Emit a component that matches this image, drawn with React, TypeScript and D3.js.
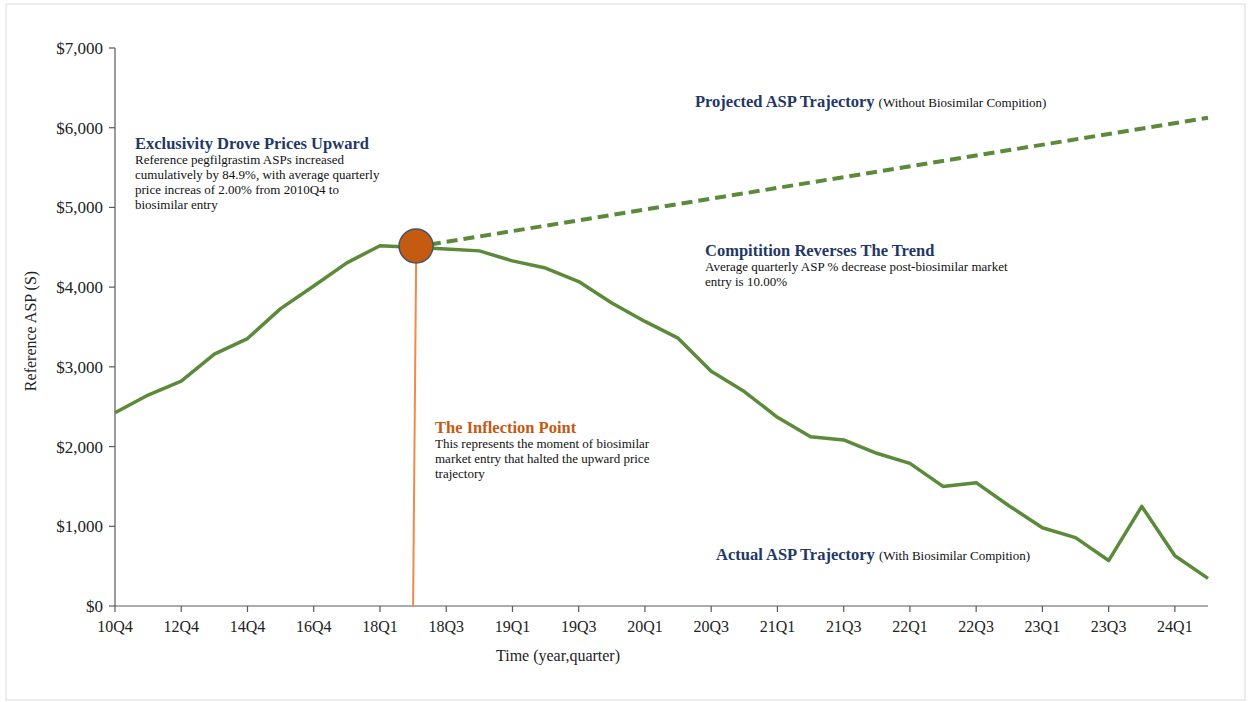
import React from "react";
import * as d3 from "d3";

const categories: string[] = [
  "10Q4", "11Q4", "12Q4", "13Q4", "14Q4", "15Q4", "16Q4", "17Q4",
  "18Q1", "18Q2", "18Q3", "18Q4", "19Q1", "19Q2", "19Q3", "19Q4",
  "20Q1", "20Q2", "20Q3", "20Q4", "21Q1", "21Q2", "21Q3", "21Q4",
  "22Q1", "22Q2", "22Q3", "22Q4", "23Q1", "23Q2", "23Q3", "23Q4",
  "24Q1", "24Q2",
];

const actualASP: number[] = [
  2425, 2646, 2820, 3160, 3355, 3730, 4015, 4305,
  4520, 4500, 4480, 4455, 4330, 4240, 4070, 3800,
  3570, 3360, 2945, 2690, 2367, 2124, 2083, 1916,
  1790, 1500, 1547, 1255, 982, 857, 570, 1250,
  631, 347,
];

const projectedCats: string[] = ["18Q2", "24Q2"];
const projectedASP: number[] = [4500, 6125];

const xTickLabels: string[] = [
  "10Q4", "12Q4", "14Q4", "16Q4", "18Q1", "18Q3", "19Q1", "19Q3", "20Q1",
  "20Q3", "21Q1", "21Q3", "22Q1", "22Q3", "23Q1", "23Q3", "24Q1",
];
const yTicks: number[] = [0, 1000, 2000, 3000, 4000, 5000, 6000, 7000];

const entryCat = "18Q2";
const entryValue = 4517;

const W = 1251;
const H = 702;
const left = 115;
const right = 1208;
const top = 48;
const bottom = 606;

const serif = "'Liberation Serif', 'Times New Roman', serif";
const navy = "#1F3864";
const green = "#5B8A3A";
const axisColor = "#595959";
const titleSize = 16.5;
const bodySize = 13;
const subSize = 13;

export default function App() {
  const x = d3.scalePoint<string>().domain(categories).range([left, right]);
  const y = d3.scaleLinear().domain([0, 7000]).range([bottom, top]);

  const line = d3
    .line<number>()
    .x((_, i) => x(categories[i]) as number)
    .y((d) => y(d));

  const projLine = d3
    .line<number>()
    .x((_, i) => x(projectedCats[i]) as number)
    .y((d) => y(d));

  const cx = x(entryCat) as number;
  const cy = y(entryValue);
  const r = 17;

  return (
    <svg
      width={W}
      height={H}
      style={{ position: "absolute", left: 0, top: 0, background: "#fff" }}
      fontFamily={serif}
    >
      <rect x={6} y={4} width={1239} height={696} fill="#fff" stroke="#D9D9D9" strokeWidth={1} />

      {/* Y axis */}
      <line x1={left} x2={left} y1={top} y2={bottom} stroke={axisColor} strokeWidth={1.2} />
      {yTicks.map((t) => (
        <g key={t}>
          <line x1={left - 6} x2={left} y1={y(t)} y2={y(t)} stroke={axisColor} strokeWidth={1.2} />
          <text x={left - 12} y={y(t)} dy="0.35em" textAnchor="end" fontSize={17} fill="#222">
            {d3.format("$,")(t)}
          </text>
        </g>
      ))}

      {/* X axis */}
      <line x1={left} x2={right} y1={bottom} y2={bottom} stroke={axisColor} strokeWidth={1.2} />
      {xTickLabels.map((c) => (
        <g key={c}>
          <line x1={x(c)} x2={x(c)} y1={bottom} y2={bottom + 6} stroke={axisColor} strokeWidth={1.2} />
          <text x={x(c)} y={bottom + 26} textAnchor="middle" fontSize={16} fill="#222">
            {c}
          </text>
        </g>
      ))}

      <text x={558} y={661} textAnchor="middle" fontSize={16} fill="#222">
        Time (year,quarter)
      </text>
      <text
        transform={`translate(36, ${(top + bottom) / 2 + 4}) rotate(-90)`}
        textAnchor="middle"
        fontSize={16}
        fill="#222"
      >
        Reference ASP (S)
      </text>

      {/* Lines */}
      <path d={line(actualASP) || ""} fill="none" stroke={green} strokeWidth={3.5} strokeLinejoin="round" />
      <path
        d={projLine(projectedASP) || ""}
        fill="none"
        stroke={green}
        strokeWidth={4}
        strokeDasharray="11 6"
      />

      {/* Inflection marker */}
      <line x1={cx + 3} x2={cx} y1={cy + r} y2={bottom} stroke="#F08A4B" strokeWidth={2} />
      <circle cx={cx + 3} cy={cy} r={r} fill="#C55A11" stroke="#44546A" strokeWidth={1.5} />

      {/* Annotations */}
      <g>
        <text x={135} y={149} fontSize={titleSize} fontWeight="bold" fill={navy}>
          Exclusivity Drove Prices Upward
        </text>
        {[
          "Reference pegfilgrastim ASPs increased",
          "cumulatively by 84.9%, with average quarterly",
          "price increas of 2.00% from 2010Q4 to",
          "biosimilar entry",
        ].map((s, i) => (
          <text key={i} x={135} y={164 + i * 15} fontSize={bodySize} fill="#111">
            {s}
          </text>
        ))}
      </g>

      <g>
        <text x={695} y={107}>
          <tspan fontSize={titleSize} fontWeight="bold" fill={navy}>Projected ASP Trajectory</tspan>
          <tspan fontSize={subSize} fill="#111" dx={4}>(Without Biosimilar Compition)</tspan>
        </text>
      </g>

      <g>
        <text x={705} y={256} fontSize={titleSize} fontWeight="bold" fill={navy}>
          Compitition Reverses The Trend
        </text>
        {["Average quarterly ASP % decrease post-biosimilar market", "entry is 10.00%"].map((s, i) => (
          <text key={i} x={705} y={271 + i * 15} fontSize={bodySize} fill="#111">
            {s}
          </text>
        ))}
      </g>

      <g>
        <text x={435} y={433} fontSize={titleSize} fontWeight="bold" fill="#C55A11">
          The Inflection Point
        </text>
        {[
          "This represents the moment of biosimilar",
          "market entry that halted the upward price",
          "trajectory",
        ].map((s, i) => (
          <text key={i} x={435} y={448 + i * 15} fontSize={bodySize} fill="#111">
            {s}
          </text>
        ))}
      </g>

      <g>
        <text x={716} y={560}>
          <tspan fontSize={titleSize} fontWeight="bold" fill={navy}>Actual ASP Trajectory</tspan>
          <tspan fontSize={subSize} fill="#111" dx={4}>(With Biosimilar Compition)</tspan>
        </text>
      </g>
    </svg>
  );
}
